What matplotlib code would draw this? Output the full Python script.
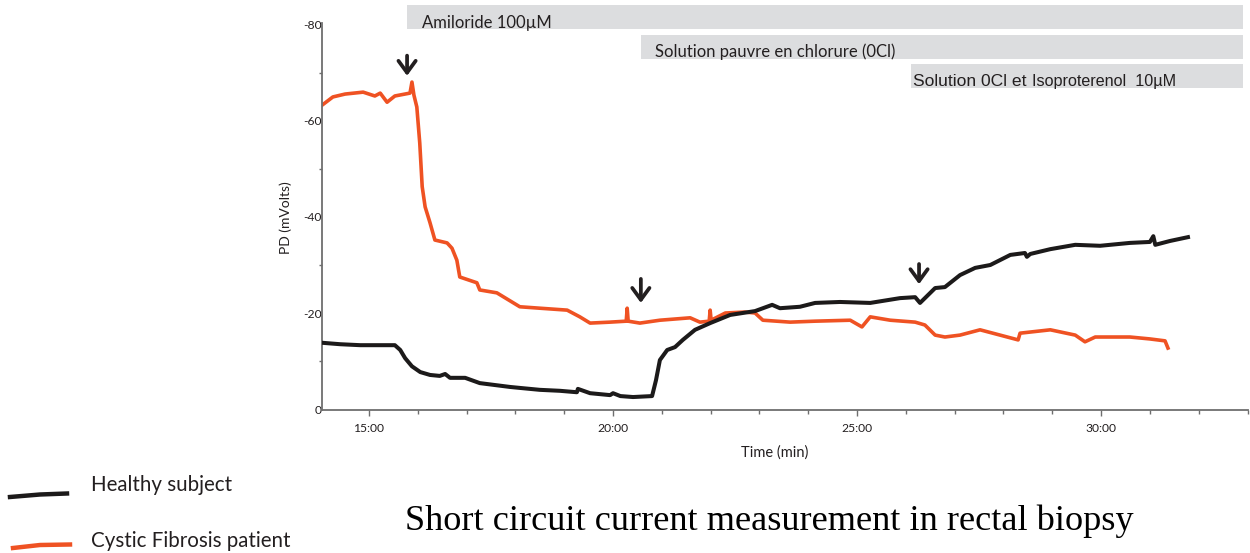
import matplotlib
matplotlib.use("Agg")
import matplotlib.pyplot as plt
from matplotlib.patches import Rectangle
from matplotlib.lines import Line2D
from matplotlib.transforms import blended_transform_factory
from matplotlib.ticker import MultipleLocator, FuncFormatter

# ---------------- data ----------------
cf_time = [14.04, 14.26, 14.51, 14.88, 15.12, 15.23, 15.37, 15.53, 15.84, 15.88,
           15.92, 15.98, 16.04, 16.09, 16.15, 16.25, 16.35, 16.60, 16.70, 16.80,
           16.86, 17.21, 17.27, 17.62, 18.09, 18.50, 19.06, 19.32, 19.53, 19.94,
           20.27, 20.29, 20.31, 20.55, 20.96, 21.58, 21.78, 21.97, 21.99, 22.01,
           22.30, 22.70, 22.91, 23.07, 23.63, 24.14, 24.86, 25.10, 25.27, 25.68,
           26.19, 26.39, 26.60, 26.80, 27.11, 27.52, 27.93, 28.30, 28.34, 28.96,
           29.47, 29.67, 29.88, 30.59, 31.00, 31.31, 31.37]
cf_pd = [-63.3, -65.0, -65.6, -66.0, -65.2, -65.8, -63.9, -65.2, -65.8, -68.1,
         -65.4, -62.9, -55.4, -46.3, -42.1, -38.8, -35.2, -34.6, -33.5, -31.0,
         -27.5, -26.3, -24.8, -24.2, -21.3, -21.0, -20.6, -19.2, -17.9, -18.1,
         -18.3, -21.0, -18.3, -17.9, -18.5, -19.0, -18.1, -18.3, -20.6, -18.5,
         -20.0, -20.2, -20.0, -18.5, -18.1, -18.3, -18.5, -17.1, -19.2, -18.5,
         -18.1, -17.5, -15.4, -15.0, -15.4, -16.5, -15.4, -14.4, -15.8, -16.5,
         -15.4, -14.0, -15.0, -15.0, -14.6, -14.2, -12.7]

healthy_time = [14.04, 14.41, 14.82, 15.23, 15.53, 15.64, 15.74, 15.88, 16.05, 16.25,
                16.45, 16.56, 16.66, 16.97, 17.27, 17.89, 18.09, 18.50, 18.91, 19.26,
                19.28, 19.53, 19.94, 20.00, 20.15, 20.41, 20.80, 20.88, 20.96, 21.11,
                21.27, 21.43, 21.68, 21.99, 22.40, 22.91, 23.26, 23.42, 23.83, 24.14,
                24.65, 25.27, 25.88, 26.19, 26.29, 26.39, 26.60, 26.80, 27.11, 27.42,
                27.73, 28.14, 28.44, 28.48, 28.55, 28.96, 29.47, 29.98, 30.59, 31.00,
                31.07, 31.11, 31.41, 31.78]
healthy_pd = [-13.8, -13.5, -13.3, -13.3, -13.3, -12.3, -10.6, -8.9, -7.7, -7.1,
              -6.9, -7.3, -6.5, -6.5, -5.4, -4.6, -4.4, -4.0, -3.8, -3.5,
              -4.2, -3.3, -2.9, -3.3, -2.7, -2.5, -2.7, -6.0, -10.2, -12.3,
              -12.9, -14.4, -16.5, -17.9, -19.6, -20.4, -21.7, -21.0, -21.3, -22.1,
              -22.3, -22.1, -23.1, -23.3, -22.1, -23.1, -25.2, -25.4, -27.9, -29.4,
              -30.0, -32.1, -32.5, -31.7, -32.3, -33.3, -34.2, -34.0, -34.6, -34.8,
              -36.0, -34.2, -35.0, -35.8]

# treatment periods (start, end in minutes) and labels
period_start = [15.78, 20.57, 26.11]
period_end = [32.91, 32.91, 32.91]
period_labels = ["Amiloride 100\u00b5M", "Solution pauvre en chlorure (0Cl)", "Solution 0Cl et "]
period_label_extra = "Isoproterenol  10\u00b5M"

# arrows marking additions (time, top value, tip value)
arrow_time = [15.78, 20.57, 26.27]
arrow_top = [-73.6, -27.1, -30.2]
arrow_tip = [-69.4, -22.1, -26.0]

series_labels = ["Healthy subject", "Cystic Fibrosis patient"]
title_text = "Short circuit current measurement in rectal biopsy"

# ---------------- style ----------------
ORANGE = "#EF5223"
BLACK = "#1c1a1a"
GREY_BAR = "#DCDDDF"
TXT = "#231f20"
SPINE = "#6e6e6e"

plt.rcParams['font.family'] = ['Lato', 'DejaVu Sans']

W, H = 1250, 553
fig = plt.figure(figsize=(W / 100, H / 100), dpi=100)
ax = fig.add_axes([322 / W, 1 - 410 / H, 926 / W, 387 / H])

ax.plot(healthy_time, healthy_pd, color=BLACK, lw=2.9, solid_joinstyle='round', zorder=3)
ax.plot(cf_time, cf_pd, color=ORANGE, lw=2.6, solid_joinstyle='round', zorder=2)

ax.set_xlim(14.037, 33.01)
ax.set_ylim(0.2, -80.4)

for s in ['top', 'right']:
    ax.spines[s].set_visible(False)
for s in ['left', 'bottom']:
    ax.spines[s].set_color(SPINE)
    ax.spines[s].set_linewidth(1.3)

ax.xaxis.set_major_locator(MultipleLocator(5))
ax.xaxis.set_minor_locator(MultipleLocator(1))
ax.xaxis.set_major_formatter(FuncFormatter(lambda v, p: f"{int(round(v))}:00"))
ax.yaxis.set_major_locator(MultipleLocator(20))
ax.yaxis.set_minor_locator(MultipleLocator(10))
ax.yaxis.set_major_formatter(FuncFormatter(lambda v, p: f"{int(round(v))}"))

ax.tick_params(axis='x', which='major', length=4, width=1, color=SPINE, labelsize=8.7,
               labelcolor=TXT, pad=5)
ax.tick_params(axis='x', which='minor', length=3, width=1, color=SPINE)
ax.tick_params(axis='y', which='major', length=0, width=1, color=SPINE, labelsize=8.7,
               labelcolor=TXT, pad=0)
ax.tick_params(axis='y', which='minor', length=2, width=1, color=SPINE)

ax.set_ylabel("PD (mVolts)", fontsize=10, color=TXT)
ax.yaxis.set_label_coords(-0.039, 0.496)
ax.yaxis.label.set_va('center')
ax.set_xlabel("Time (min)", fontsize=10.5, color=TXT)
ax.xaxis.set_label_coords(0.489, -0.1105)
ax.xaxis.label.set_va('center')

# grey period bars (x in data, y in figure fraction)
btr = blended_transform_factory(ax.transData, fig.transFigure)
bar_px = [(5, 29), (35, 59), (64, 88)]
text_x = [16.09, 20.86, 26.15]
for i in range(3):
    top_px, bot_px = bar_px[i]
    rect = Rectangle((period_start[i], 1 - bot_px / H), period_end[i] - period_start[i],
                     (bot_px - top_px) / H, transform=btr, facecolor=GREY_BAR,
                     edgecolor='none', clip_on=False, zorder=1)
    fig.add_artist(rect)

fig.text(text_x[0], 1 - 28 / H, period_labels[0], transform=btr, fontsize=12,
         color=TXT, va='baseline')
fig.text(text_x[1], 1 - 57.5 / H, period_labels[1], transform=btr, fontsize=12,
         color=TXT, va='baseline')
t3 = fig.text(text_x[2], 1 - 86 / H, period_labels[2], transform=btr, fontsize=12.6,
              color=TXT, va='baseline', family='Liberation Sans')
fig.canvas.draw()
bb = t3.get_window_extent(renderer=fig.canvas.get_renderer())
fig.text(bb.x1 / W, 1 - 86 / H, period_label_extra, fontsize=11.6, color=TXT,
         va='baseline', family='Liberation Sans')

# arrows
for i in range(3):
    ax.annotate('', xy=(arrow_time[i], arrow_tip[i]), xytext=(arrow_time[i], arrow_top[i]),
                arrowprops=dict(arrowstyle='->,head_length=0.85,head_width=0.62',
                                lw=2.7, color=TXT, shrinkA=0, shrinkB=0),
                annotation_clip=False, zorder=5)

# legend drawn as artwork
fig.add_artist(Line2D([10 / W, 40 / W, 67 / W], [1 - 497 / H, 1 - 494.5 / H, 1 - 493.5 / H],
                      color=BLACK, lw=3.2, transform=fig.transFigure))
fig.add_artist(Line2D([13 / W, 40 / W, 70 / W], [1 - 548 / H, 1 - 545 / H, 1 - 544.5 / H],
                      color=ORANGE, lw=3.2, transform=fig.transFigure))
fig.text(91 / W, 1 - 491 / H, series_labels[0], fontsize=14.8, color=TXT, va='baseline')
fig.text(91 / W, 1 - 547 / H, series_labels[1], fontsize=14.8, color=TXT, va='baseline')

# title
fig.text(769 / W, 1 - 530 / H, title_text, fontsize=26.1, family='Liberation Serif',
         color='black', ha='center', va='baseline')

fig.savefig("out.png", dpi=100)
